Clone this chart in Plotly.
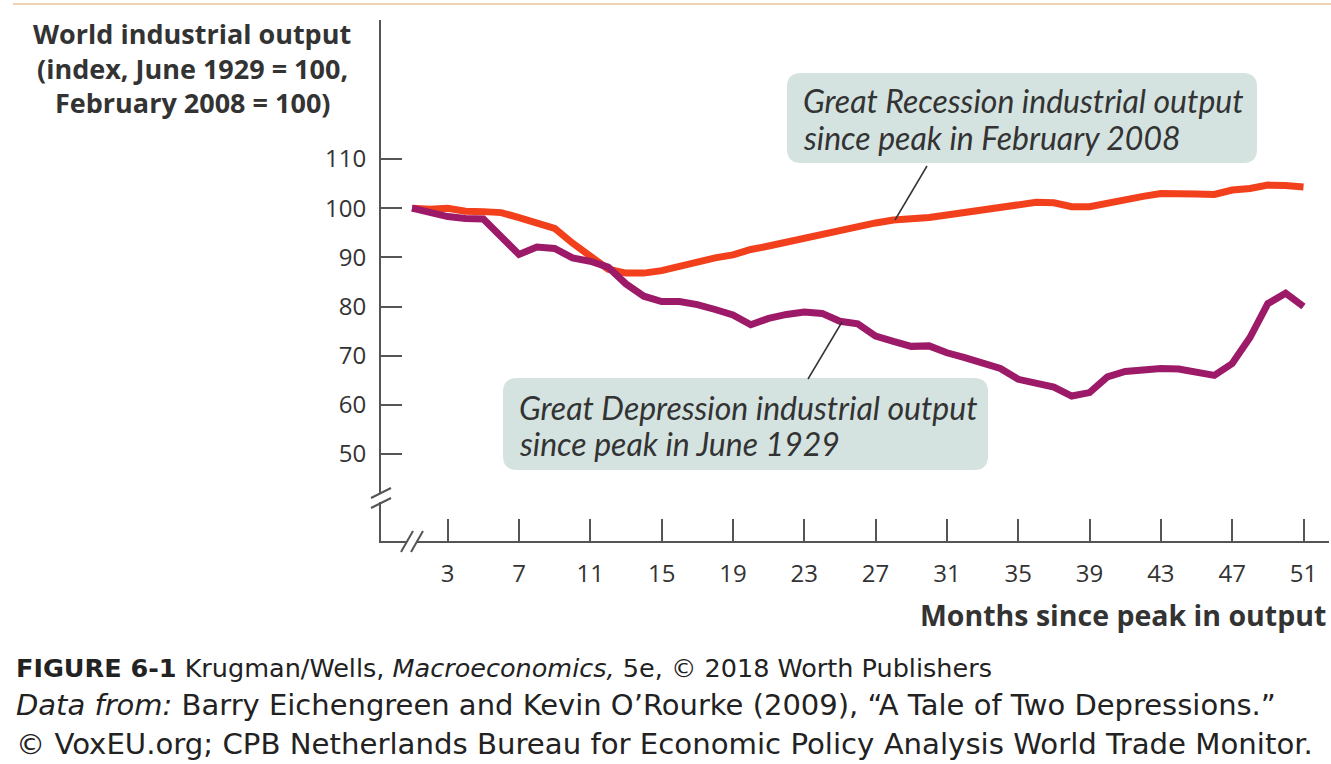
import plotly.graph_objects as go

months = list(range(1, 52))
depression = [100, 99.1, 98.3, 97.9, 97.8, 94.2, 90.6, 92.1, 91.8, 89.9,
              89.2, 88.0, 84.6, 82.1, 81.0, 81.0, 80.4, 79.4, 78.3, 76.3,
              77.6, 78.4, 78.9, 78.6, 77.0, 76.5, 74.0, 72.9, 71.9, 72.0,
              70.6, 69.6, 68.6, 67.4, 65.2, 64.5, 63.6, 61.8, 62.5, 65.7,
              66.8, 67.1, 67.4, 67.3, 66.8, 66.0, 68.4, 73.7, 80.6, 82.7, 80.0]
recession = [100, 99.8, 100.0, 99.4, 99.3, 99.1, 98.1, 97.1, 95.9, 92.9,
             90.4, 87.6, 86.8, 86.8, 87.3, 88.2, 89.1, 89.9, 90.5, 91.6,
             92.3, 93.1, 93.8, 94.9, 95.7, 96.4, 97.0, 97.6, 97.8, 98.1,
             98.6, 99.1, 99.5, 100.1, 100.7, 101.2, 101.1, 100.3, 100.3, 101.1,
             101.9, 102.4, 103.0, 102.8, 102.9, 102.8, 103.7, 104.0, 104.7, 104.6, 104.3]
x_ticks = list(range(3, 52, 4))
y_ticks = [50, 60, 70, 80, 90, 100, 110]

W, H = 1331, 764
L, R, T, B = 381, 2, 20, 223
PW, PH = W - L - R, H - T - B
AX = "#555555"
TXT = "#333333"

def px(x):
    return (x - L) / PW

def py(y):
    return (H - B - y) / PH

fig = go.Figure()
fig.add_trace(go.Scatter(x=months, y=recession, mode="lines",
                         line=dict(color="#f2401c", width=7), hoverinfo="skip"))
fig.add_trace(go.Scatter(x=months, y=depression, mode="lines",
                         line=dict(color="#9c1a68", width=7), hoverinfo="skip"))

fig.update_layout(
    width=W, height=H, showlegend=False,
    margin=dict(l=L, r=R, t=T, b=B, pad=0),
    paper_bgcolor="white", plot_bgcolor="white",
    xaxis=dict(range=[-0.74, 52.43], tickvals=x_ticks, ticks="inside", ticklen=22,
               tickwidth=2, tickcolor=AX, showline=True, linecolor=AX, linewidth=2,
               showgrid=False, zeroline=False, ticklabelstandoff=10,
               tickfont=dict(family="Open Sans", size=24, color=TXT)),
    yaxis=dict(range=[32.32, 138.27], tickvals=y_ticks, ticks="inside", ticklen=21,
               tickwidth=2, tickcolor=AX, showline=True, linecolor=AX, linewidth=2,
               showgrid=False, zeroline=False, ticklabelstandoff=8,
               tickfont=dict(family="Open Sans", size=24, color=TXT)),
)

shapes = []
# top decorative border
shapes.append(dict(type="line", xref="paper", yref="paper", x0=px(13), x1=px(1331),
                   y0=py(4), y1=py(4), line=dict(color="#eed4b4", width=2)))
# axis breaks (gaps + slashes)
shapes.append(dict(type="rect", xref="paper", yref="paper", x0=px(378), x1=px(384),
                   y0=py(502), y1=py(494), fillcolor="white", line=dict(width=0), layer="above"))
for dy in (0, 10):
    shapes.append(dict(type="line", xref="paper", yref="paper", x0=px(371), y0=py(498 + dy),
                       x1=px(391), y1=py(488 + dy), line=dict(color=AX, width=2), layer="above"))
shapes.append(dict(type="rect", xref="paper", yref="paper", x0=px(407), x1=px(416),
                   y0=py(544), y1=py(538), fillcolor="white", line=dict(width=0), layer="above"))
for dx in (0, 10):
    shapes.append(dict(type="line", xref="paper", yref="paper", x0=px(401 + dx), y0=py(552),
                       x1=px(413 + dx), y1=py(531), line=dict(color=AX, width=2), layer="above"))

def rounded_box(x0, y0, x1, y1, r=14):
    a0, a1 = px(x0), px(x1)
    b0, b1 = py(y1), py(y0)
    rx, ry = r / PW, r / PH
    path = (f"M {a0+rx},{b0} L {a1-rx},{b0} Q {a1},{b0} {a1},{b0+ry} "
            f"L {a1},{b1-ry} Q {a1},{b1} {a1-rx},{b1} L {a0+rx},{b1} "
            f"Q {a0},{b1} {a0},{b1-ry} L {a0},{b0+ry} Q {a0},{b0} {a0+rx},{b0} Z")
    return dict(type="path", xref="paper", yref="paper", path=path,
                fillcolor="#d4e3e0", line=dict(width=0), layer="above")

shapes.append(rounded_box(787, 73, 1257, 163))
shapes.append(rounded_box(503, 378, 988, 470))
# leader lines
shapes.append(dict(type="line", xref="paper", yref="paper", x0=px(927), y0=py(166),
                   x1=px(895), y1=py(220), line=dict(color="#333333", width=1.5)))
shapes.append(dict(type="line", xref="paper", yref="paper", x0=px(808), y0=py(379),
                   x1=px(842), y1=py(322), line=dict(color="#333333", width=1.5)))
fig.update_layout(shapes=shapes)

ann = []
def text(x, y, s, size, xanchor="left", family="Open Sans", color=TXT):
    ann.append(dict(xref="paper", yref="paper", x=px(x), y=py(y), text=s, showarrow=False,
                    xanchor=xanchor, yanchor="middle", align=xanchor,
                    font=dict(family=family, size=size, color=color)))

# y-axis title
text(192, 33, "<b>World industrial output</b>", 27, "center")
text(192, 68, "<b>(index, June 1929 = 100,</b>", 27, "center")
text(192, 102, "<b>February 2008 = 100)</b>", 27, "center")
# x-axis title
text(1328, 615, "<b>Months since peak in output</b>", 28.5, "right")
# box texts
text(801, 101, "<i>Great Recession industrial output</i>", 32, family="Lato")
text(801, 137, "<i>since peak in February 2008</i>", 32, family="Lato")
text(517, 407, "<i>Great Depression industrial output</i>", 32, family="Lato")
text(517, 443, "<i>since peak in June 1929</i>", 32, family="Lato")
# caption
cap = "DejaVu Sans"
text(14, 668, "<b>FIGURE 6-1</b> Krugman/Wells, <i>Macroeconomics,</i> 5e, © 2018 Worth Publishers",
     25.5, family=cap, color="#222222")
text(14, 705, "<i>Data from:</i> Barry Eichengreen and Kevin O’Rourke (2009), “A Tale of Two Depressions.”",
     29, family=cap, color="#222222")
text(14, 744, "© VoxEU.org; CPB Netherlands Bureau for Economic Policy Analysis World Trade Monitor.",
     29.2, family=cap, color="#222222")
fig.update_layout(annotations=ann)

fig.write_html("out.html", post_script="document.body.style.margin='0';",
               config={"displayModeBar": False})
